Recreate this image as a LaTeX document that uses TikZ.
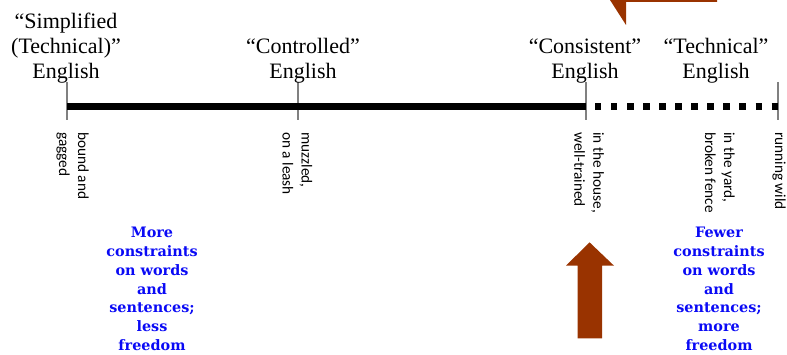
\documentclass[tikz,border=0pt]{standalone}
\usepackage{fontspec}
\usepackage{xcolor}
\usepackage{tikz}
\usetikzlibrary{positioning}
\newfontfamily\scalefont{Liberation Serif}
\newfontfamily\notefont{Carlito}
\newfontfamily\blurbfont{DejaVu Serif}
\definecolor{rustbrown}{HTML}{993300}
\definecolor{tickgray}{HTML}{808080}
\definecolor{blurbblue}{HTML}{0A0AF5}

\begin{document}
\begin{tikzpicture}[
  x=1pt, y=-1pt,
  tick/.style={draw=tickgray, line width=1.2pt},
  solidbar/.style={draw=black, line width=7.3pt},
  dotbar/.style={draw=black, line width=7.3pt, dash pattern=on 6.4pt off 9.65pt},
  kind/.style={font=\scalefont\fontsize{22}{25}\selectfont, align=center, inner sep=0pt, anchor=south},
  note/.style={font=\notefont\fontsize{15.3}{19}\selectfont, align=left, inner sep=0pt, rotate=-90, anchor=west},
  blurb/.style={font=\blurbfont\bfseries\fontsize{14.4}{18.8}\selectfont, text=blurbblue, align=center, inner sep=0pt, anchor=north},
  bigarrow/.style={fill=rustbrown, draw=none},
]
\useasboundingbox (0,0) rectangle (787,355);

% ---------- scale: ticks and bar ----------
\foreach \name/\x in {tA/67, tB/298, tC/586, tD/778} {
  \coordinate (\name-top) at (\x,82);
  \coordinate (\name-mid) at (\x,106.3);
  \coordinate (\name-bot) at (\x,120);
  \draw[tick] (\name-top) -- (\name-bot);
}
\coordinate (dotstart) at (595,106.3);
\draw[solidbar] (tA-mid) -- (tC-mid);
\draw[dotbar] (dotstart) -- (tD-mid);

% ---------- kinds of English above the bar ----------
\node[kind] (simplified) at (66,83)  {“Simplified\\(Technical)”\\English};
\node[kind] (controlled) at (303,83) {“Controlled”\\English};
\node[kind] (consistent) at (585,83) {“Consistent”\\English};
\node[kind] (technical)  at (716,83) {“Technical”\\English};

% ---------- rotated notes under the bar ----------
\node[note] (bound)   at (72.5,132) {bound and\\gagged};
\node[note] (muzzled) at (297.5,132) {muzzled,\\on a leash};
\node[note] (house)   at (589,132) {in the house,\\well-trained};
\node[note] (yard)    at (720,132) {in the yard,\\broken fence};
\node[note] (wild)    at (779,132) {running wild};

% ---------- blue blurbs ----------
\node[blurb] (more)  at (152,227) {More\\constraints\\on words\\and\\sentences;\\less\\freedom};
\node[blurb] (fewer) at (719,227) {Fewer\\constraints\\on words\\and\\sentences;\\more\\freedom};

% ---------- brown arrows ----------
\fill[bigarrow] (610,0) -- (626,25) -- (626,1.8) -- (717,1.8) -- (717,0) -- cycle;
\fill[bigarrow] (589.5,242.3) -- (614,265.7) -- (602,265.7) -- (602,338.3)
  -- (577.7,338.3) -- (577.7,265.7) -- (566,265.7) -- cycle;
\end{tikzpicture}
\end{document}
